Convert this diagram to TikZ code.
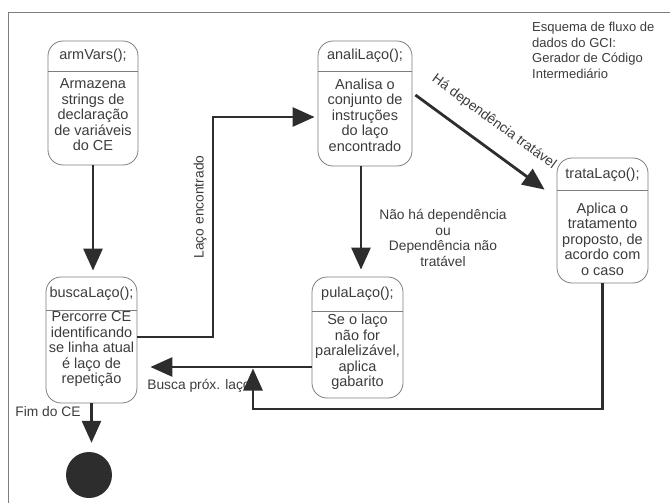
\documentclass[tikz,border=0pt]{standalone}
\usepackage{fontspec}
\setmainfont{Liberation Sans}
\usetikzlibrary{arrows.meta}
\definecolor{textgray}{RGB}{60,60,60}
\definecolor{boxgray}{RGB}{125,125,125}
\definecolor{arrowgray}{RGB}{45,45,45}

\begin{document}
\begin{tikzpicture}[x=1pt,y=-1pt,
  caixa/.style={draw=boxgray, line width=0.8pt, rounded corners=15pt, inner sep=0pt},
  texto/.style={text=textgray, align=center, font=\fontsize{14.5}{15.5}\selectfont, inner sep=0pt},
  rotulo/.style={text=textgray, align=center, font=\fontsize{13.8}{15.5}\selectfont, inner sep=0pt},
  seta/.style={draw=arrowgray, line width=2.8pt, -{Triangle[length=22pt,width=19pt]}}]
  \useasboundingbox (0,0) rectangle (670,503);
  \draw[boxgray, line width=0.8pt] (670,12) -- (8,12) -- (8,503);

  \node[caixa, minimum width=90pt, minimum height=124pt] (armVars) at (93,103) {};
  \draw[boxgray, line width=0.8pt] (armVars.west |- 0,71) -- (armVars.east |- 0,71);
  \node[texto] (armVarsT) at (93,56) {armVars();};
  \node[texto] (armVarsC) at (93,115) {Armazena\\strings de\\declaração\\de variáveis\\do CE};

  \node[caixa, minimum width=94pt, minimum height=125pt] (analiLaco) at (365,103.5) {};
  \draw[boxgray, line width=0.8pt] (analiLaco.west |- 0,71) -- (analiLaco.east |- 0,71);
  \node[texto] (analiLacoT) at (365,56) {analiLaço();};
  \node[texto] (analiLacoC) at (365,115) {Analisa o\\conjunto de\\instruções\\do laço\\encontrado};

  \node[caixa, minimum width=91pt, minimum height=125pt] (trataLaco) at (602.5,220.5) {};
  \draw[boxgray, line width=0.8pt] (trataLaco.west |- 0,190) -- (trataLaco.east |- 0,190);
  \node[texto] (trataLacoT) at (602.5,175) {trataLaço();};
  \node[texto] (trataLacoC) at (602.5,239) {Aplica o\\tratamento\\proposto, de\\acordo com\\o caso};

  \node[caixa, minimum width=91pt, minimum height=126pt] (buscaLaco) at (91.5,340) {};
  \draw[boxgray, line width=0.8pt] (buscaLaco.west |- 0,310) -- (buscaLaco.east |- 0,310);
  \node[texto] (buscaLacoT) at (91.5,293.5) {buscaLaço();};
  \node[texto] (buscaLacoC) at (91.5,349) {Percorre CE\\identificando\\se linha atual\\é laço de\\repetição};

  \node[caixa, minimum width=91pt, minimum height=121pt] (pulaLaco) at (357.5,337.5) {};
  \draw[boxgray, line width=0.8pt] (pulaLaco.west |- 0,311) -- (pulaLaco.east |- 0,311);
  \node[texto] (pulaLacoT) at (357.5,294) {pulaLaço();};
  \node[texto] (pulaLacoC) at (357.5,352) {Se o laço\\não for\\paralelizável,\\aplica\\gabarito};

  \node[circle, fill=arrowgray, minimum size=46pt, inner sep=0pt] (fim) at (89,475) {};

  \node[texto, font=\fontsize{13}{15.5}\selectfont, align=left, anchor=north west] (esquema) at (532,22)
    {Esquema de fluxo de\\dados do GCI:\\Gerador de Código\\Intermediário};

  \draw[seta, shorten >=6pt] (armVars.south) -- (armVars.south |- buscaLaco.north);
  \draw[seta, shorten >=3pt] ([yshift=3pt]buscaLaco.east) -| (213,117) -- (analiLaco.west |- 0,117);
  \node[rotulo, rotate=90] (lacoEnc) at (200,207) {Laço encontrado};
  \draw[seta] ([xshift=3pt,yshift=8.5pt]analiLaco.east) -- ([xshift=-12pt,yshift=-32pt]trataLaco.north west);
  \node[rotulo, rotate=-36] (depTrat) at (494,122) {Há dependência tratável};
  \draw[seta, shorten >=7pt] ([xshift=-4pt]analiLaco.south) -- ([xshift=-4pt]analiLaco.south |- pulaLaco.north);
  \node[rotulo] (naoDep) at (443,238) {Não há dependência\\ou\\Dependência não\\tratável};
  \draw[seta, shorten >=13pt] (pulaLaco.west |- 0,367) -- (buscaLaco.east |- 0,367);
  \node[rotulo] (buscaProx) at (199,386) {Busca próx. laço};
  \draw[seta] (trataLaco.south) -- (trataLaco.south |- 0,409) -| (253,368.5);
  \draw[seta, shorten >=9pt] (buscaLaco.south) -- (buscaLaco.south |- fim.north);
  \node[rotulo] (fimCE) at (48,412) {Fim do CE};
\end{tikzpicture}
\end{document}
